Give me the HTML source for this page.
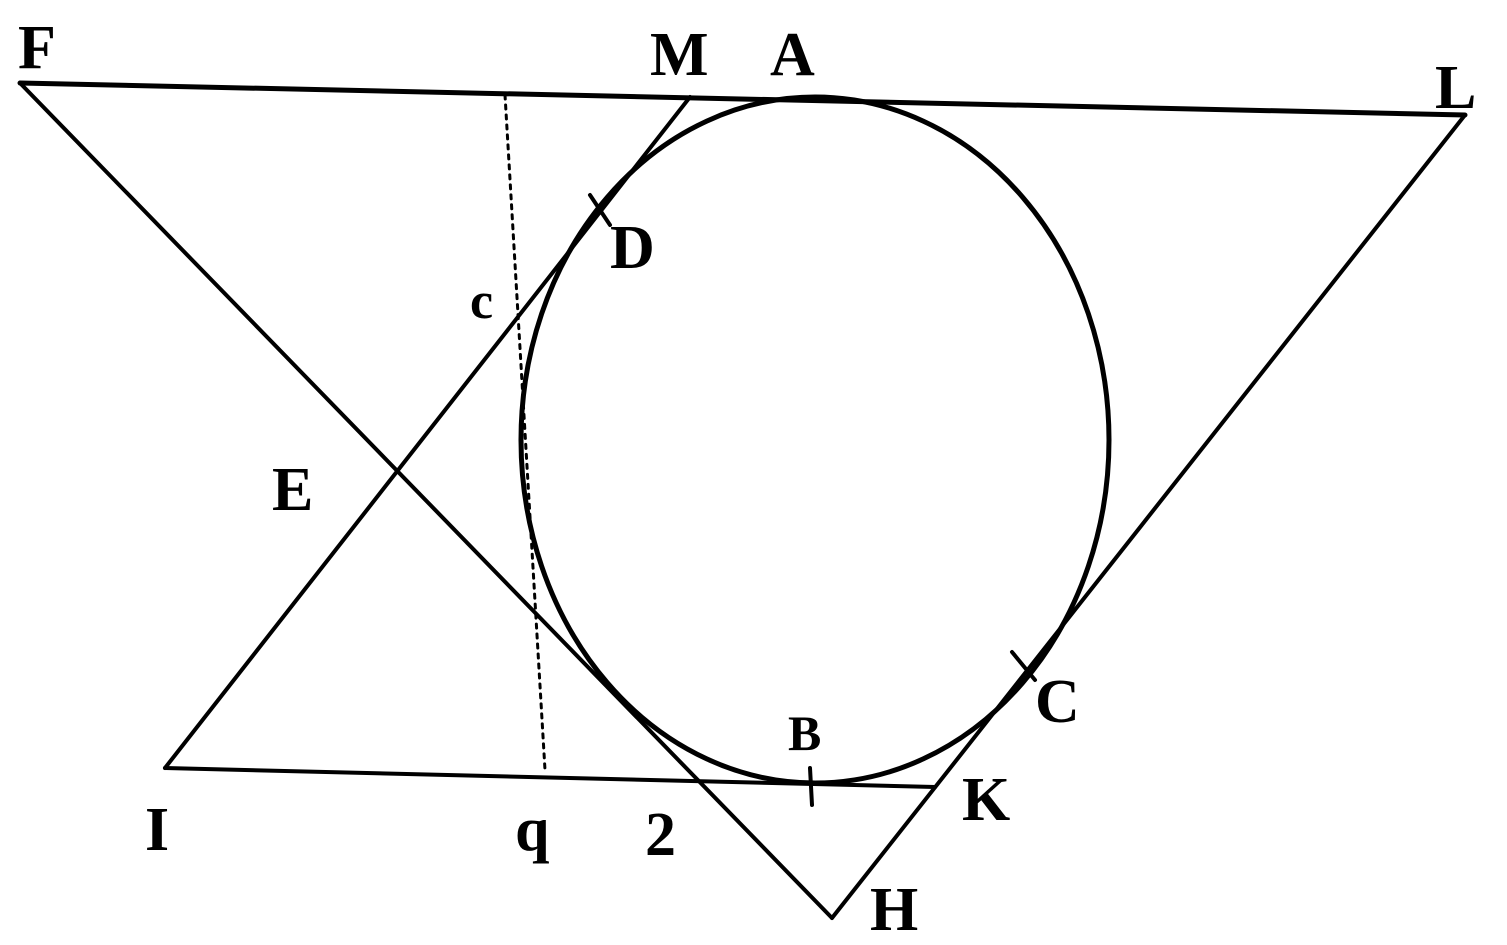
<!DOCTYPE html>
<html><head><meta charset="utf-8"><style>
html,body{margin:0;padding:0;background:#fff;}
svg{display:block;}
text{font-family:"Liberation Serif",serif;font-weight:bold;fill:#000;font-size:62px;}
</style></head><body>
<svg width="1507" height="945" viewBox="0 0 1507 945" xmlns="http://www.w3.org/2000/svg">
<g stroke="#000" fill="none" stroke-width="4" stroke-linecap="round">
<line x1="20" y1="83" x2="1465" y2="115" stroke-width="5"/>
<line x1="20" y1="83" x2="832" y2="918"/>
<line x1="1465" y1="115" x2="832" y2="918"/>
<line x1="165" y1="768" x2="935" y2="787"/>
<line x1="165" y1="768" x2="690" y2="97"/>
<ellipse cx="815" cy="440" rx="294" ry="343" stroke-width="5"/>
<line x1="505" y1="95" x2="545" y2="770" stroke-dasharray="4,6" stroke-width="3"/>
<line x1="590" y1="195" x2="610" y2="225"/>
<line x1="1012" y1="652" x2="1035" y2="680"/>
<line x1="810" y1="768" x2="812" y2="805"/>
</g>
<text x="18" y="68">F</text>
<text x="650" y="75">M</text>
<text x="770" y="75">A</text>
<text x="1435" y="108">L</text>
<text x="610" y="268">D</text>
<text x="470" y="318" style="font-size:52px">c</text>
<text x="272" y="510">E</text>
<text x="1035" y="722">C</text>
<text x="788" y="750" style="font-size:50px">B</text>
<text x="962" y="820">K</text>
<text x="145" y="850">I</text>
<text x="515" y="850">q</text>
<text x="645" y="855">2</text>
<text x="870" y="930">H</text>
</svg>
</body></html>
